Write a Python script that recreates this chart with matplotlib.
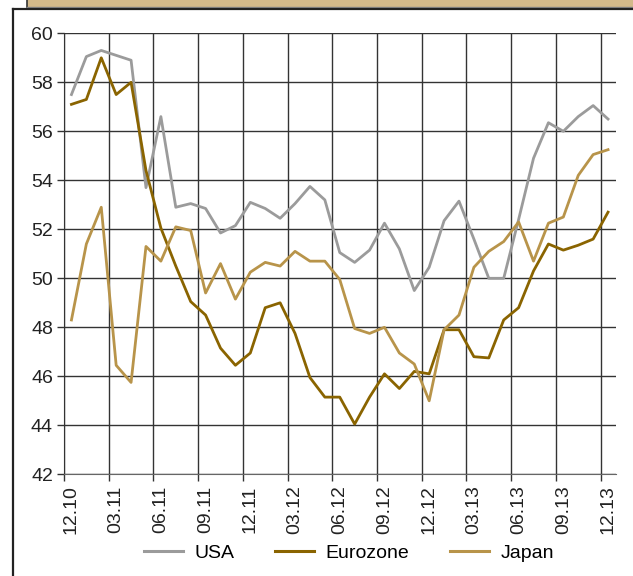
import matplotlib
matplotlib.use('Agg')
import matplotlib.pyplot as plt
from matplotlib.patches import Rectangle
from matplotlib.lines import Line2D

plt.rcParams['font.family'] = ['Liberation Sans', 'DejaVu Sans']

quarter_labels = ['12.10', '03.11', '06.11', '09.11', '12.11', '03.12', '06.12',
                  '09.12', '12.12', '03.13', '06.13', '09.13', '12.13']

usa = [57.5, 59.05, 59.3, 59.1, 58.9, 53.7, 56.6, 52.9, 53.05, 52.85, 51.85, 52.15,
       53.1, 52.85, 52.45, 53.05, 53.75, 53.2, 51.05, 50.65, 51.15, 52.25, 51.2, 49.5,
       50.45, 52.35, 53.15, 51.6, 50.0, 50.0, 52.4, 54.9, 56.35, 56.0, 56.6, 57.05, 56.5]

eurozone = [57.1, 57.3, 59.0, 57.5, 58.0, 54.4, 52.05, 50.5, 49.05, 48.5, 47.15, 46.45,
            46.95, 48.8, 49.0, 47.75, 45.95, 45.15, 45.15, 44.05, 45.15, 46.1, 45.5, 46.2,
            46.1, 47.9, 47.9, 46.8, 46.75, 48.3, 48.8, 50.3, 51.4, 51.15, 51.35, 51.6, 52.7]

japan = [48.3, 51.4, 52.9, 46.45, 45.75, 51.3, 50.7, 52.1, 51.95, 49.4, 50.6, 49.15,
         50.25, 50.65, 50.5, 51.1, 50.7, 50.7, 49.95, 47.95, 47.75, 48.0, 46.95, 46.5,
         45.0, 47.9, 48.5, 50.45, 51.1, 51.5, 52.3, 50.7, 52.25, 52.5, 54.2, 55.05, 55.25]

series_names = ['USA', 'Eurozone', 'Japan']
colors = ['#9b9b9b', '#8a6400', '#b8944a']

W, H = 633, 576
fig = plt.figure(figsize=(W / 100, H / 100), dpi=100)

# header bar and frame
fig.patches.append(Rectangle((27 / W, 1 - 7 / H), 1, 7 / H, transform=fig.transFigure,
                             facecolor='#d3b98a', edgecolor='none', zorder=0))
fig.lines.append(Line2D([27 / W, 27 / W], [1 - 7 / H, 1], transform=fig.transFigure,
                        color='#333333', lw=1.2))
fig.lines.append(Line2D([27 / W, 1], [1 - 7 / H, 1 - 7 / H], transform=fig.transFigure,
                        color='#888888', lw=1.0))
fig.lines.append(Line2D([13 / W, 13 / W], [0, 1 - 8.5 / H], transform=fig.transFigure,
                        color='#222222', lw=1.6))
fig.lines.append(Line2D([13 / W, 1], [1 - 8.5 / H, 1 - 8.5 / H], transform=fig.transFigure,
                        color='#222222', lw=1.6))

ax = fig.add_axes([64 / W, 1 - 474.3 / H, (615.5 - 64) / W, (474.3 - 33.3) / H])

x = [i + 0.5 for i in range(len(usa))]
for vals, name, c in zip([usa, eurozone, japan], series_names, colors):
    ax.plot(x, vals, color=c, lw=2.0, label=name, zorder=3)

ax.set_xlim(0, len(usa))
ax.set_ylim(42, 60)
ax.set_yticks(range(42, 61, 2))

major = list(range(0, len(usa), 3))
ax.set_xticks(major)
ax.set_xticklabels([''] * len(major))
ax.set_xticks([m + 0.5 for m in major], minor=True)
ax.set_xticklabels(quarter_labels, minor=True, rotation=90, fontsize=14, color='#222222')
ax.tick_params(axis='x', which='minor', length=0, pad=8)
ax.tick_params(axis='x', which='major', length=5, width=1, color='#333333')
ax.tick_params(axis='y', length=5, width=1, color='#333333', pad=3,
               labelsize=14, labelcolor='#222222')

ax.grid(True, which='major', color='#333333', lw=1.0, zorder=1)
ax.set_axisbelow(True)
for s in ['top', 'right']:
    ax.spines[s].set_visible(False)
ax.spines['left'].set_color('#333333')
ax.spines['bottom'].set_color('#666666')

handles = [Line2D([], [], color=c, lw=2.2) for c in colors]
fig.legend(handles, series_names, loc='center', bbox_to_anchor=(349 / W, 1 - 553 / H),
           ncol=3, frameon=False, fontsize=14, handlelength=2.0, handletextpad=0.6,
           columnspacing=2.1)

fig.savefig('out.png', dpi=100)
